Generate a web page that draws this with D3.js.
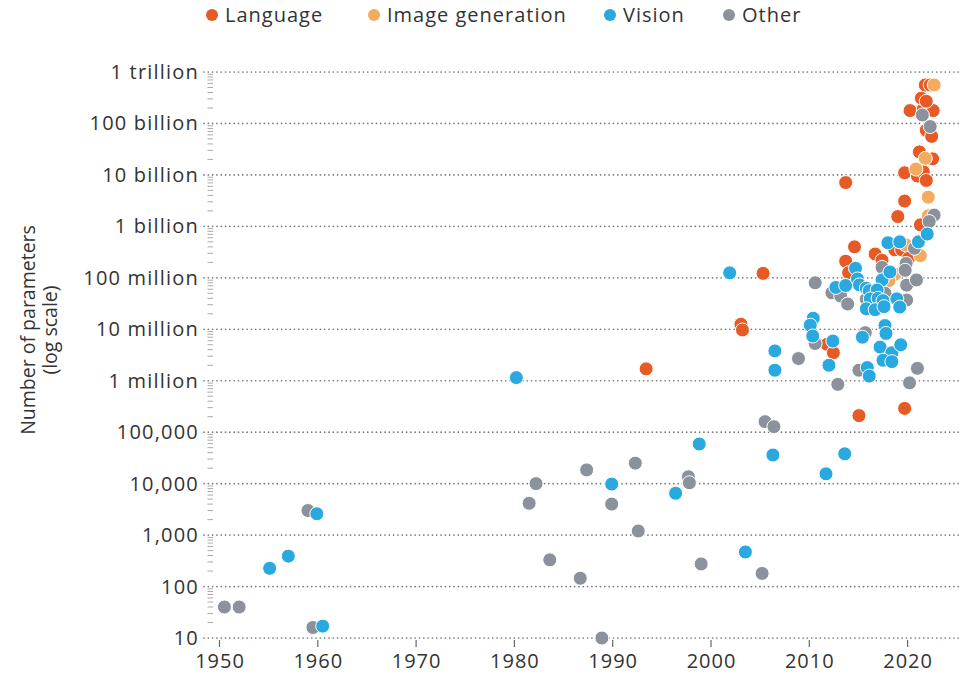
<!DOCTYPE html>
<html>
<head>
<meta charset="utf-8">
<script src="https://cdn.jsdelivr.net/npm/d3@7"></script>
<style>
  body { margin: 0; background: #fff; }
  svg { display: block; font-family: "Open Sans", sans-serif; }
</style>
</head>
<body>
<div id="chart"></div>
<script>
// [year, number of parameters]
const language = [
  [1993.4, 1.7e6], [2003.05, 1.25e7], [2003.2, 9.7e6], [2005.3, 1.22e8],
  [2011.8, 5.1e6], [2012.45, 3.5e6], [2013.7, 7.1e9], [2014.6, 4.0e8],
  [2013.7, 2.1e8], [2014.0, 1.26e8], [2016.7, 2.9e8], [2017.4, 2.2e8],
  [2018.7, 3.5e8], [2019.4, 3.5e8], [2020.1, 2.4e8], [2015.05, 2.1e5],
  [2019.7, 2.9e5], [2019.0, 1.55e9], [2019.7, 3.1e9], [2019.7, 1.1e10],
  [2021.0, 9.5e9], [2021.6, 1.15e10], [2021.9, 7.8e9], [2021.2, 2.8e10],
  [2022.55, 2.05e10], [2021.3, 1.07e9], [2020.25, 1.78e11], [2021.6, 1.9e11],
  [2022.6, 1.78e11], [2021.4, 3.1e11], [2021.9, 2.7e11], [2021.9, 7.4e10],
  [2022.45, 5.6e10], [2021.8, 5.6e11], [2022.3, 5.6e11]
];
const imageGeneration = [
  [2019.8, 4.4e8], [2021.3, 2.7e8], [2018.7, 1.17e8], [2018.1, 8.8e7],
  [2022.1, 3.7e9], [2020.85, 1.3e10], [2021.8, 2.1e10], [2022.1, 1.6e9],
  [2022.7, 5.6e11]
];
const vision = [
  [1955.1, 226], [1957.0, 390], [1959.9, 2600], [1960.5, 17],
  [1980.2, 1.15e6], [1989.9, 9800], [1996.4, 6500], [1998.8, 5.9e4],
  [2001.9, 1.25e8], [2003.5, 470], [2006.3, 3.6e4], [2006.5, 3.8e6],
  [2006.5, 1.6e6], [2010.4, 1.64e7], [2010.1, 1.2e7], [2010.35, 7.4e6],
  [2012.4, 5.9e6], [2012.0, 2.0e6], [2011.7, 1.55e4], [2013.6, 3.8e4],
  [2015.4, 7.0e6], [2015.9, 1.8e6], [2016.1, 1.23e6], [2017.2, 4.5e6],
  [2017.7, 1.18e7], [2017.8, 8.3e6], [2018.4, 3.5e6], [2017.5, 2.5e6],
  [2018.4, 2.35e6], [2019.3, 5.0e6], [2014.7, 1.53e8], [2018.0, 4.8e8],
  [2019.2, 5.0e8], [2021.1, 5.0e8], [2022.0, 7.1e8], [2017.4, 9.1e7],
  [2018.2, 1.3e8], [2012.7, 6.5e7], [2013.7, 7.1e7], [2014.9, 9.5e7],
  [2015.1, 7.3e7], [2015.8, 6.3e7], [2016.1, 5.6e7], [2016.9, 5.8e7],
  [2016.2, 3.9e7], [2017.0, 4.0e7], [2017.5, 3.6e7], [2015.8, 2.5e7],
  [2016.7, 2.4e7], [2017.6, 2.75e7], [2018.9, 3.9e7], [2019.2, 2.7e7]
];
const other = [
  [1950.5, 40], [1952.0, 40], [1959.0, 3000], [1959.5, 16],
  [1981.5, 4150], [1982.2, 1.0e4], [1983.6, 330], [1986.7, 145],
  [1987.35, 1.85e4], [1988.9, 10], [1989.9, 4000], [1992.3, 2.5e4],
  [1992.6, 1200], [1997.7, 1.36e4], [1997.8, 1.04e4], [1999.0, 275],
  [2005.5, 1.6e5], [2006.4, 1.28e5], [2005.2, 180], [2008.9, 2.7e6],
  [2010.6, 8.0e7], [2010.6, 5.3e6], [2012.9, 8.5e5], [2015.05, 1.6e6],
  [2015.7, 8.6e6], [2021.0, 1.74e6], [2020.2, 9.1e5], [2012.3, 5.1e7],
  [2013.2, 4.4e7], [2013.9, 3.1e7], [2015.8, 3.85e7], [2017.7, 5.0e7],
  [2019.9, 3.7e7], [2017.4, 1.6e8], [2019.85, 1.9e8], [2019.75, 1.4e8],
  [2019.9, 7.2e7], [2020.9, 9.1e7], [2020.7, 3.75e8], [2021.5, 1.46e11],
  [2022.3, 8.7e10], [2022.7, 1.66e9], [2022.2, 1.24e9]
];

const categories = ["Language", "Image generation", "Vision", "Other"];
const colors = ["#e65a26", "#f4aa5f", "#29a9e0", "#8b929b"];
const seriesData = [language, imageGeneration, vision, other];

const yTicks = [10, 100, 1e3, 1e4, 1e5, 1e6, 1e7, 1e8, 1e9, 1e10, 1e11, 1e12];
const yTickLabels = ["10", "100", "1,000", "10,000", "100,000", "1 million",
  "10 million", "100 million", "1 billion", "10 billion", "100 billion", "1 trillion"];
const xTicks = [1950, 1960, 1970, 1980, 1990, 2000, 2010, 2020];

const width = 959;
const height = 674;

const svg = d3.select('#chart')
  .append('svg')
  .attr('width', width)
  .attr('height', height);

const x = d3.scaleLinear().domain([1950, 2020]).range([219.5, 907.6]);
const y = d3.scaleLog().domain([10, 1e12]).range([638, 72]);

// dotted gridlines
svg.append('g')
  .selectAll('line')
  .data(yTicks)
  .join('line')
    .attr('x1', 204).attr('x2', width)
    .attr('y1', d => y(d)).attr('y2', d => y(d))
    .attr('stroke', '#777')
    .attr('stroke-width', 1.7)
    .attr('stroke-linecap', 'round')
    .attr('stroke-dasharray', '0.01 4.3');

// minor log ticks on the y axis
const minor = [];
yTicks.slice(0, -1).forEach(t => {
  for (let k = 2; k <= 9; k++) minor.push(t * k);
});
svg.append('g')
  .selectAll('line')
  .data(minor)
  .join('line')
    .attr('x1', 207.5).attr('x2', 213)
    .attr('y1', d => y(d)).attr('y2', d => y(d))
    .attr('stroke', '#aaa')
    .attr('stroke-width', 1);

// y labels
svg.append('g')
  .selectAll('text')
  .data(yTicks)
  .join('text')
    .attr('x', 199)
    .attr('y', d => y(d))
    .attr('dy', '0.35em')
    .attr('text-anchor', 'end')
    .attr('font-size', 20)
    .attr('letter-spacing', 1.2)
    .attr('fill', '#333')
    .text((d, i) => yTickLabels[i]);

// x ticks + labels
const xg = svg.append('g');
xg.selectAll('line')
  .data(xTicks)
  .join('line')
    .attr('x1', d => x(d)).attr('x2', d => x(d))
    .attr('y1', 640).attr('y2', 647)
    .attr('stroke', '#666')
    .attr('stroke-width', 1.2);
xg.selectAll('text')
  .data(xTicks)
  .join('text')
    .attr('x', d => x(d) + 0.5)
    .attr('y', 668)
    .attr('text-anchor', 'middle')
    .attr('font-size', 20)
    .attr('letter-spacing', 1)
    .attr('fill', '#333')
    .text(d => d);

// axis title
svg.append('text')
  .attr('transform', 'translate(35,330) rotate(-90)')
  .attr('text-anchor', 'middle')
  .attr('font-size', 19.5)
  .attr('fill', '#333')
  .selectAll('tspan')
  .data(["Number of parameters", "(log scale)"])
  .join('tspan')
    .attr('x', 0)
    .attr('dy', (d, i) => i === 0 ? 0 : 22)
    .text(d => d);

// points: language underneath, vision on top
const drawOrder = [0, 1, 3, 2];
drawOrder.forEach(i => {
  svg.append('g')
    .selectAll('circle')
    .data(seriesData[i])
    .join('circle')
      .attr('cx', d => x(d[0]))
      .attr('cy', d => y(d[1]))
      .attr('r', 7)
      .attr('fill', colors[i])
      .attr('stroke', '#fff')
      .attr('stroke-width', 1);
});

// legend
const legendX = [212, 374, 610, 729];
const legend = svg.append('g')
  .selectAll('g')
  .data(categories)
  .join('g')
    .attr('transform', (d, i) => `translate(${legendX[i]},15)`);
legend.append('circle')
  .attr('r', 6)
  .attr('fill', (d, i) => colors[i]);
legend.append('text')
  .attr('x', 13)
  .attr('dy', '0.35em')
  .attr('font-size', 20)
  .attr('letter-spacing', 1)
  .attr('fill', '#333')
  .text(d => d);
</script>
</body>
</html>
